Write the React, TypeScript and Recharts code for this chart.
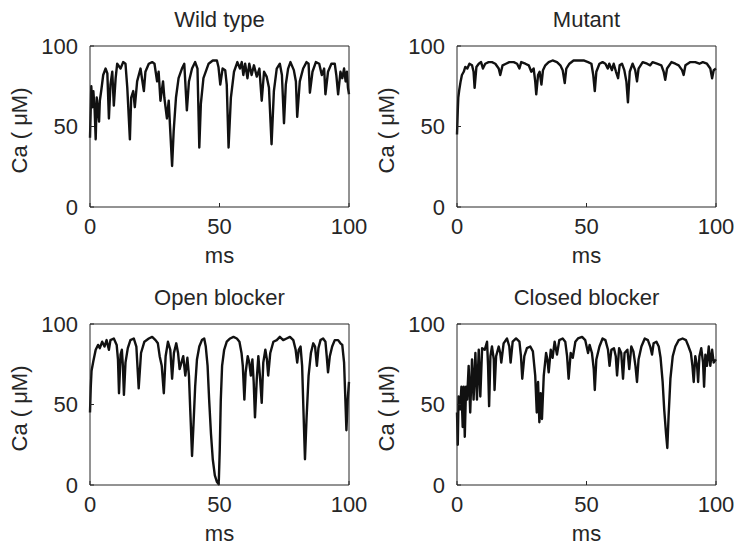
import { LineChart, Line, XAxis, YAxis, Label } from "recharts";

// [ms, Ca (µM)]
const wildType: [number, number][] = [
  [0, 43], [0.5, 75], [0.9, 62], [1.3, 72], [1.8, 60], [2.2, 42], [2.6, 68], [3.1, 60], [3.5, 53], [3.8, 66],
  [4.4, 73], [5.1, 82], [6.0, 86], [6.7, 83], [7.3, 55], [7.9, 76], [8.6, 84], [9.2, 63], [9.9, 80], [10.5, 89],
  [11.8, 86], [12.8, 90], [13.7, 89], [14.4, 74], [15.4, 42], [15.9, 68], [16.7, 72], [17.3, 62], [18.2, 78], [19.5, 86],
  [20.8, 72], [21.4, 84], [22.7, 89], [24.0, 90], [24.9, 89], [25.9, 78], [26.5, 84], [27.2, 66], [28.2, 78], [28.7, 68],
  [29.7, 55], [30.4, 66], [31.0, 47], [31.7, 25.5], [32.3, 47], [33.2, 68], [34.2, 80], [35.5, 86], [36.4, 89], [37.4, 60],
  [38.2, 78], [39.4, 86], [40.6, 90], [41.5, 86], [42.2, 37], [42.8, 64], [43.8, 80], [45.8, 89], [47.4, 91], [49.0, 91],
  [49.6, 87], [50.3, 76], [51.2, 86], [52.2, 85], [52.8, 76], [53.5, 37], [54.4, 68], [55.6, 84], [56.9, 90], [57.9, 86],
  [58.6, 90], [59.2, 82], [59.9, 89], [60.8, 80], [61.5, 89], [62.4, 82], [63.3, 88], [64.4, 81], [65.4, 86], [66.3, 66],
  [67.2, 84], [68.2, 81], [69.1, 74], [70.1, 39], [71.0, 72], [72.1, 86], [73.3, 89], [74.1, 82], [74.9, 52], [75.6, 76],
  [76.5, 86], [77.4, 90], [78.7, 85], [79.5, 78], [80.0, 56], [81.0, 78], [82.3, 86], [83.6, 90], [84.4, 89], [84.9, 71],
  [85.9, 84], [87.2, 90], [88.5, 89], [89.5, 82], [90.4, 86], [90.9, 70], [91.9, 84], [93.2, 89], [94.5, 89], [95.1, 82],
  [95.8, 70], [96.7, 84], [97.4, 80], [98.1, 86], [98.7, 78], [99.2, 84], [99.6, 74], [100, 70],
];

const mutant: [number, number][] = [
  [0, 45], [0.3, 60], [0.5, 68], [0.9, 73], [1.4, 78], [1.9, 82], [2.6, 84], [3.2, 87], [4.0, 86], [4.8, 89],
  [5.8, 88], [6.4, 84], [6.8, 74], [7.5, 87], [8.4, 89], [9.3, 90], [10.0, 86], [10.9, 89], [12.2, 90], [13.5, 90],
  [14.8, 89], [16.1, 86], [16.7, 82], [17.6, 88], [18.9, 89], [20.2, 90], [21.9, 90], [23.2, 89], [24.1, 86], [24.8, 90],
  [26.4, 89], [27.7, 88], [28.7, 84], [29.6, 86], [30.2, 78], [30.6, 70], [31.3, 82], [31.9, 84], [32.6, 76], [33.2, 85],
  [34.1, 88], [35.4, 90], [36.9, 91], [38.6, 90], [39.9, 88], [40.8, 85], [41.6, 77], [42.2, 86], [43.4, 89], [45.0, 91],
  [47.0, 91], [48.9, 91], [50.6, 90], [51.9, 89], [52.6, 82], [53.2, 72], [53.8, 84], [55.0, 89], [56.2, 90], [57.3, 89],
  [58.2, 86], [58.8, 89], [59.8, 85], [60.5, 89], [61.4, 84], [62.2, 80], [62.8, 88], [63.7, 89], [64.6, 85], [65.4, 78],
  [66.0, 65], [66.7, 84], [67.8, 89], [68.8, 85], [69.5, 78], [70.1, 86], [71.7, 90], [73.4, 89], [74.6, 88], [75.5, 90],
  [77.2, 89], [78.9, 88], [79.8, 84], [80.4, 79], [81.1, 86], [82.8, 90], [84.3, 89], [85.6, 88], [86.9, 85], [87.5, 82],
  [88.2, 88], [90.1, 90], [92.0, 90], [93.6, 89], [94.9, 90], [96.5, 89], [97.8, 86], [98.5, 80], [99.1, 85], [100, 86],
];

const openBlocker: [number, number][] = [
  [0, 45], [0.3, 61], [0.6, 71], [1.3, 77], [2.2, 84], [3.1, 87], [3.8, 85], [4.7, 89], [5.6, 86], [6.4, 90],
  [7.3, 84], [7.9, 90], [9.2, 91], [10.3, 87], [10.8, 78], [11.2, 57], [11.8, 81], [12.3, 84], [12.7, 74], [13.1, 56],
  [13.7, 76], [14.6, 85], [15.6, 90], [16.9, 91], [17.9, 86], [18.8, 60], [19.7, 82], [21.0, 89], [22.7, 91], [24.0, 92],
  [25.3, 90], [26.2, 88], [26.9, 80], [27.7, 74], [28.5, 57], [29.2, 80], [30.1, 89], [31.0, 84], [31.7, 66], [32.4, 82],
  [33.3, 88], [34.0, 82], [34.6, 72], [35.3, 76], [36.0, 80], [36.8, 68], [37.6, 79], [38.2, 68], [38.7, 47], [39.4, 18],
  [40.0, 39], [40.6, 61], [41.3, 78], [42.2, 86], [43.2, 90], [44.1, 91], [44.7, 86], [45.4, 74], [46.0, 53], [46.7, 32],
  [47.4, 16], [48.2, 6], [49.0, 2], [49.7, 0.4], [50.1, 22], [50.5, 53], [51.0, 74], [51.8, 84], [52.8, 89], [54.1, 91],
  [55.4, 92], [56.7, 91], [57.7, 89], [58.5, 82], [59.0, 74], [59.6, 53], [60.1, 70], [60.9, 80], [61.5, 76], [62.1, 68],
  [62.7, 78], [63.2, 64], [63.7, 42], [64.4, 66], [65.0, 80], [65.6, 68], [66.3, 51], [66.9, 76], [67.7, 84], [68.3, 78],
  [68.8, 68], [69.6, 82], [70.8, 89], [72.1, 90], [73.3, 92], [74.6, 90], [75.9, 91], [77.2, 92], [78.5, 90], [79.4, 84],
  [80.0, 76], [80.6, 84], [81.3, 86], [81.9, 74], [82.4, 47], [83.0, 16], [83.6, 41], [84.4, 68], [85.3, 82], [86.2, 88],
  [86.9, 86], [87.6, 74], [88.2, 85], [89.0, 90], [90.0, 91], [90.9, 89], [91.4, 80], [91.9, 70], [92.6, 80], [93.5, 86],
  [94.5, 90], [95.8, 90], [96.7, 88], [97.4, 87], [98.1, 76], [98.6, 53], [99.0, 34], [99.5, 53], [100, 64],
];

const closedBlocker: [number, number][] = [
  [0, 45], [0.3, 25], [0.6, 55], [1.2, 47], [1.7, 61], [2.2, 36], [2.6, 61], [3.0, 30], [3.5, 61], [3.9, 53],
  [4.5, 74], [5.1, 45], [5.8, 78], [6.4, 53], [7.1, 82], [7.7, 53], [8.4, 84], [9.0, 55], [9.7, 85], [10.7, 84],
  [11.6, 89], [12.0, 74], [12.4, 49], [12.9, 80], [13.5, 86], [14.2, 78], [14.5, 59], [15.1, 80], [16.1, 86], [16.7, 82],
  [17.1, 76], [18.0, 88], [19.3, 91], [20.2, 86], [20.7, 76], [21.5, 89], [22.8, 91], [24.1, 89], [24.7, 80], [25.2, 66],
  [26.0, 80], [27.0, 85], [28.3, 86], [29.3, 83], [30.2, 68], [30.8, 45], [31.3, 64], [31.8, 39], [32.3, 57], [32.8, 41],
  [33.5, 68], [34.4, 82], [34.9, 78], [35.4, 70], [36.2, 84], [36.9, 79], [37.7, 89], [38.6, 81], [39.5, 90], [40.8, 91],
  [41.8, 89], [42.5, 80], [43.1, 66], [43.9, 82], [44.7, 79], [45.7, 89], [46.7, 91], [48.3, 92], [49.5, 90], [50.6, 82],
  [51.2, 87], [52.1, 82], [52.8, 72], [53.2, 59], [53.8, 78], [55.0, 86], [56.2, 91], [57.3, 90], [58.3, 84], [58.9, 74],
  [59.6, 84], [60.6, 85], [61.3, 80], [61.8, 68], [62.6, 85], [63.4, 82], [64.1, 66], [64.7, 82], [65.8, 84], [66.5, 72],
  [67.3, 86], [68.1, 83], [68.9, 74], [69.5, 64], [70.1, 78], [71.2, 86], [72.5, 91], [73.7, 90], [74.6, 86], [75.3, 81],
  [75.9, 88], [77.0, 89], [77.9, 86], [78.6, 79], [79.4, 64], [80.0, 47], [80.7, 32], [81.2, 23], [81.7, 43], [82.4, 66],
  [83.3, 80], [84.3, 86], [85.6, 90], [87.1, 91], [88.4, 90], [89.4, 86], [90.3, 82], [90.9, 74], [91.4, 64], [92.0, 80],
  [92.7, 74], [93.1, 64], [93.6, 80], [94.3, 85], [95.0, 76], [95.4, 61], [95.9, 81], [96.5, 74], [97.2, 86], [97.8, 74],
  [98.5, 84], [99.1, 76], [100, 78],
];

const xTicks = [0, 50, 100];
const yTicks = [0, 50, 100];

const ink = "#262626";

function Panel({ title, points, left, top }: { title: string; points: [number, number][]; left: number; top: number }) {
  const data = points.map(([ms, ca]) => ({ ms, ca }));
  return (
    <div style={{ position: "absolute", left, top }}>
      <LineChart width={367} height={273} data={data} margin={{ top: 0, right: 0, bottom: 0, left: 0 }}>
        <XAxis
          xAxisId="main" type="number" dataKey="ms" domain={[0, 100]} ticks={xTicks} interval={0}
          height={66} tickSize={-4} tickMargin={15}
          stroke={ink} tick={{ fontSize: 22, fill: ink }}
        >
          <Label value="ms" position="insideBottom" offset={10} style={{ fontSize: 22, fill: ink }} />
        </XAxis>
        <XAxis
          xAxisId="top" orientation="top" type="number" domain={[0, 100]} ticks={xTicks} interval={0}
          allowDataOverflow height={46} tickSize={-4} tick={false} stroke={ink}
        >
          <Label value={title} position="insideBottom" offset={19} style={{ fontSize: 22, fill: ink }} />
        </XAxis>
        <YAxis
          yAxisId="main" type="number" domain={[0, 100]} ticks={yTicks} interval={0}
          width={90} tickSize={-4} tickMargin={16}
          stroke={ink} tick={{ fontSize: 22, fill: ink }}
        >
          <Label
            value="Ca ( μM)" angle={-90} position="insideLeft" offset={19} dy={4}
            style={{ fontSize: 22, fill: ink, textAnchor: "middle" }}
          />
        </YAxis>
        <YAxis
          yAxisId="right" orientation="right" type="number" domain={[0, 100]} ticks={yTicks} interval={0}
          allowDataOverflow width={18} tickSize={-4} tick={false} stroke={ink}
        />
        <Line
          xAxisId="main" yAxisId="main" type="linear" dataKey="ca"
          stroke="#111" strokeWidth={2.4} strokeLinejoin="round" dot={false} isAnimationActive={false}
        />
      </LineChart>
    </div>
  );
}

export default function App() {
  return (
    <div
      style={{
        position: "absolute", left: 0, top: 0, width: 734, height: 547, background: "#fff",
        fontFamily: '"Liberation Sans", Arial, Helvetica, sans-serif',
      }}
    >
      <Panel title="Wild type" points={wildType} left={0} top={0} />
      <Panel title="Mutant" points={mutant} left={367} top={0} />
      <Panel title="Open blocker" points={openBlocker} left={0} top={278} />
      <Panel title="Closed blocker" points={closedBlocker} left={367} top={278} />
    </div>
  );
}
